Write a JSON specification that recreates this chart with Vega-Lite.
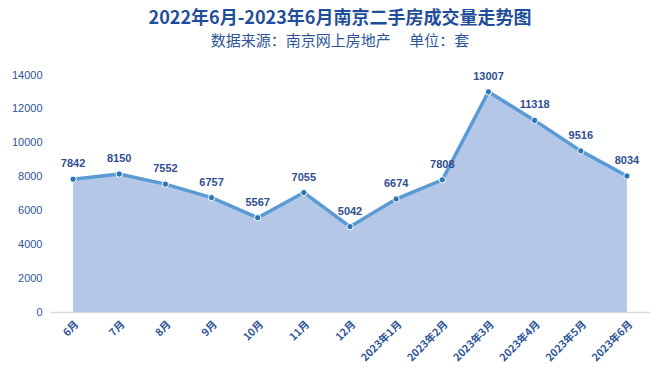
{
  "$schema": "https://vega.github.io/schema/vega-lite/v6.json",
  "width": 600,
  "height": 237,
  "autosize": {"type": "none"},
  "padding": {"left": 50, "top": 75, "right": 13, "bottom": 69},
  "background": "white",
  "title": {
    "text": "2022年6月-2023年6月南京二手房成交量走势图",
    "subtitle": "数据来源：南京网上房地产　 单位：套",
    "anchor": "middle",
    "frame": "group",
    "dx": -10,
    "offset": 20,
    "font": "Noto Sans CJK SC",
    "fontSize": 18,
    "fontWeight": "bold",
    "color": "#1F4E9A",
    "subtitleFont": "Noto Sans CJK SC",
    "subtitleFontSize": 15,
    "subtitleColor": "#2F5597",
    "subtitlePadding": 6
  },
  "data": {
    "values": [
      {"month": "6月", "count": 7842},
      {"month": "7月", "count": 8150},
      {"month": "8月", "count": 7552},
      {"month": "9月", "count": 6757},
      {"month": "10月", "count": 5567},
      {"month": "11月", "count": 7055},
      {"month": "12月", "count": 5042},
      {"month": "2023年1月", "count": 6674},
      {"month": "2023年2月", "count": 7808},
      {"month": "2023年3月", "count": 13007},
      {"month": "2023年4月", "count": 11318},
      {"month": "2023年5月", "count": 9516},
      {"month": "2023年6月", "count": 8034}
    ]
  },
  "encoding": {
    "x": {
      "field": "month",
      "type": "ordinal",
      "sort": null,
      "scale": {"type": "point", "padding": 0.5},
      "axis": {
        "title": null,
        "labelAngle": -45,
        "labelFont": "Noto Sans CJK SC",
        "labelFontSize": 10.5,
        "labelFontWeight": "bold",
        "labelColor": "#2F5597",
        "labelPadding": 7,
        "ticks": false,
        "domainColor": "#D9D9D9",
        "domainWidth": 1.5,
        "grid": false
      }
    },
    "y": {
      "field": "count",
      "type": "quantitative",
      "scale": {"domain": [0, 14000], "nice": false},
      "axis": {
        "title": null,
        "format": "d",
        "values": [0, 2000, 4000, 6000, 8000, 10000, 12000, 14000],
        "labelFont": "Liberation Sans",
        "labelFontSize": 11,
        "labelColor": "#2F5597",
        "labelPadding": 8,
        "ticks": false,
        "domain": false,
        "grid": false
      }
    }
  },
  "layer": [
    {"mark": {"type": "area", "color": "#B4C7E7", "opacity": 1}},
    {"mark": {"type": "line", "color": "#5B9BD5", "strokeWidth": 3.5}},
    {"mark": {"type": "point", "filled": true, "fill": "#2E75B6", "stroke": "white", "strokeWidth": 1, "size": 40, "opacity": 1}},
    {
      "mark": {"type": "text", "dy": -15, "font": "Liberation Sans", "fontSize": 11, "fontWeight": "bold", "color": "#2F4F8F"},
      "encoding": {"text": {"field": "count", "type": "quantitative", "format": "d"}}
    }
  ],
  "config": {"view": {"stroke": null}}
}
